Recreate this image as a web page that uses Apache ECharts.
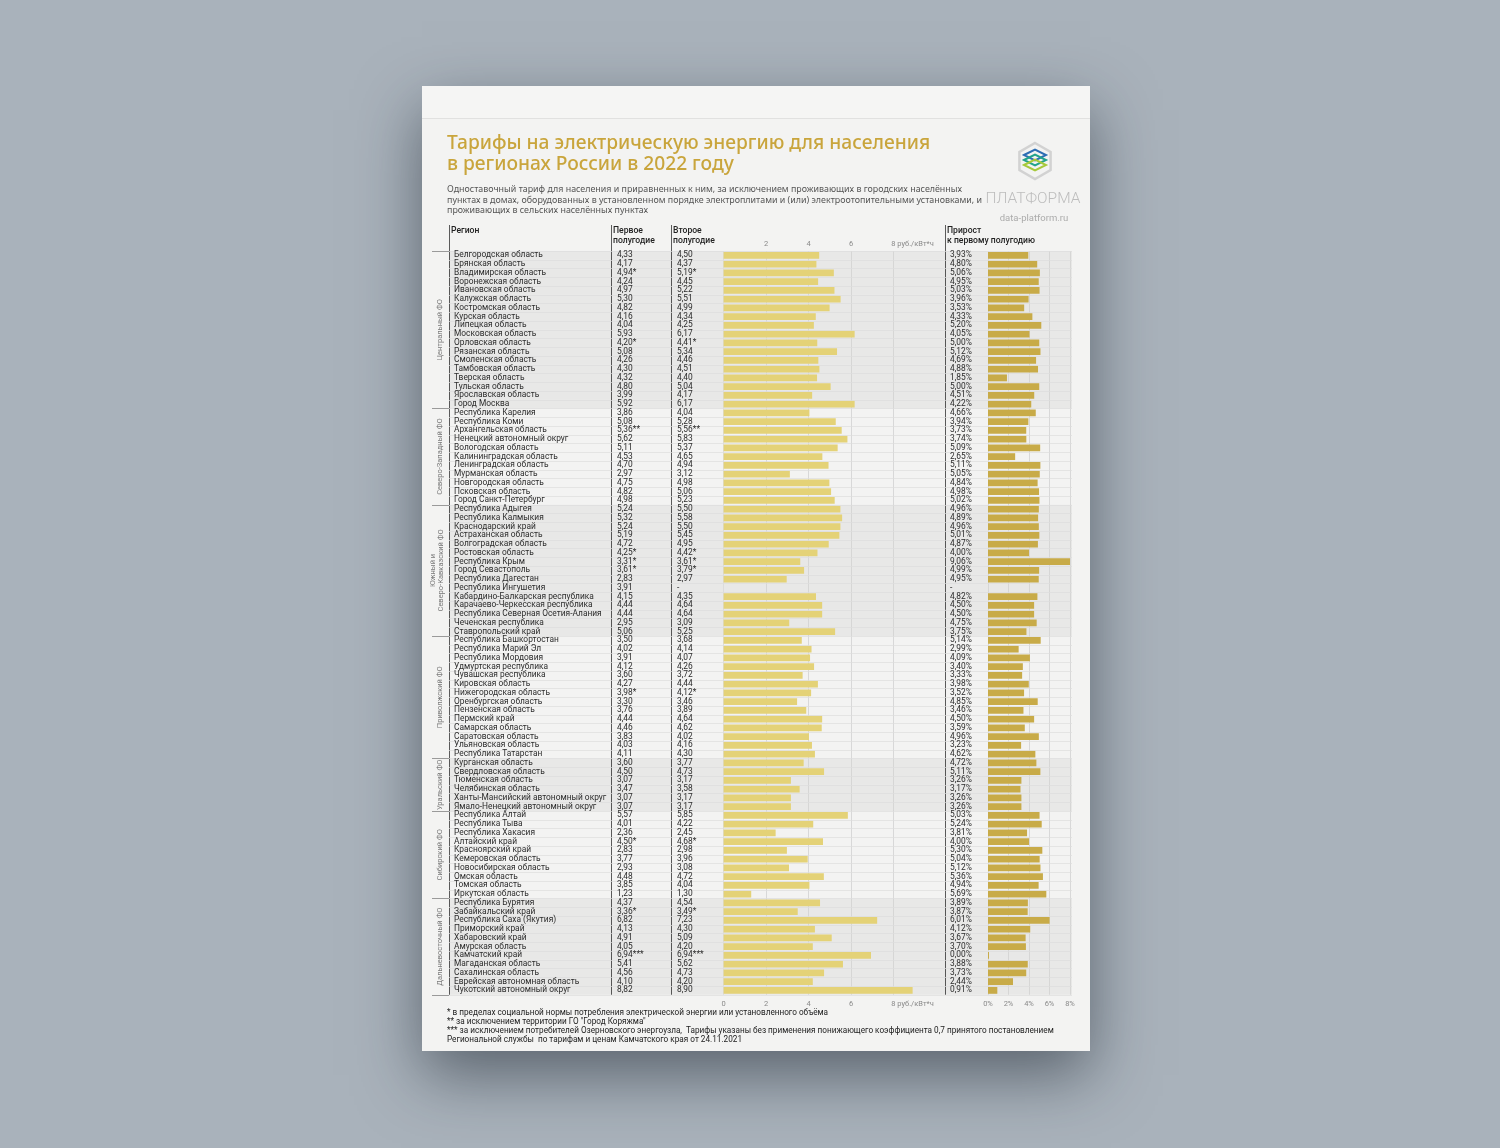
<!DOCTYPE html>
<html><head><meta charset="utf-8">
<script src="https://cdn.jsdelivr.net/npm/echarts@6/dist/echarts.min.js"></script>
<style>html,body{margin:0;padding:0;background:#a9b2bb}#c{width:1500px;height:1148px}</style>
</head><body><div id="c"></div>
<script>
// ---------------- DATA ----------------
const regions = [
 'Белгородская область','Брянская область','Владимирская область','Воронежская область','Ивановская область','Калужская область','Костромская область','Курская область','Липецкая область','Московская область','Орловская область','Рязанская область','Смоленская область','Тамбовская область','Тверская область','Тульская область','Ярославская область','Город Москва',
 'Республика Карелия','Республика Коми','Архангельская область','Ненецкий автономный округ','Вологодская область','Калининградская область','Ленинградская область','Мурманская область','Новгородская область','Псковская область','Город Санкт-Петербург',
 'Республика Адыгея','Республика Калмыкия','Краснодарский край','Астраханская область','Волгоградская область','Ростовская область','Республика Крым','Город Севастополь','Республика Дагестан','Республика Ингушетия','Кабардино-Балкарская республика','Карачаево-Черкесская республика','Республика Северная Осетия-Алания','Чеченская республика','Ставропольский край',
 'Республика Башкортостан','Республика Марий Эл','Республика Мордовия','Удмуртская республика','Чувашская республика','Кировская область','Нижегородская область','Оренбургская область','Пензенская область','Пермский край','Самарская область','Саратовская область','Ульяновская область','Республика Татарстан',
 'Курганская область','Свердловская область','Тюменская область','Челябинская область','Ханты-Мансийский автономный округ','Ямало-Ненецкий автономный округ',
 'Республика Алтай','Республика Тыва','Республика Хакасия','Алтайский край','Красноярский край','Кемеровская область','Новосибирская область','Омская область','Томская область','Иркутская область',
 'Республика Бурятия','Забайкальский край','Республика Саха (Якутия)','Приморский край','Хабаровский край','Амурская область','Камчатский край','Магаданская область','Сахалинская область','Еврейская автономная область','Чукотский автономный округ'
];
const firstHalf = [
 4.33,4.17,4.94,4.24,4.97,5.30,4.82,4.16,4.04,5.93,4.20,5.08,4.26,4.30,4.32,4.80,3.99,5.92,
 3.86,5.08,5.36,5.62,5.11,4.53,4.70,2.97,4.75,4.82,4.98,
 5.24,5.32,5.24,5.19,4.72,4.25,3.31,3.61,2.83,3.91,4.15,4.44,4.44,2.95,5.06,
 3.50,4.02,3.91,4.12,3.60,4.27,3.98,3.30,3.76,4.44,4.46,3.83,4.03,4.11,
 3.60,4.50,3.07,3.47,3.07,3.07,
 5.57,4.01,2.36,4.50,2.83,3.77,2.93,4.48,3.85,1.23,
 4.37,3.36,6.82,4.13,4.91,4.05,6.94,5.41,4.56,4.10,8.82
];
const secondHalf = [
 4.50,4.37,5.19,4.45,5.22,5.51,4.99,4.34,4.25,6.17,4.41,5.34,4.46,4.51,4.40,5.04,4.17,6.17,
 4.04,5.28,5.56,5.83,5.37,4.65,4.94,3.12,4.98,5.06,5.23,
 5.50,5.58,5.50,5.45,4.95,4.42,3.61,3.79,2.97,null,4.35,4.64,4.64,3.09,5.25,
 3.68,4.14,4.07,4.26,3.72,4.44,4.12,3.46,3.89,4.64,4.62,4.02,4.16,4.30,
 3.77,4.73,3.17,3.58,3.17,3.17,
 5.85,4.22,2.45,4.68,2.98,3.96,3.08,4.72,4.04,1.30,
 4.54,3.49,7.23,4.30,5.09,4.20,6.94,5.62,4.73,4.20,8.90
];
const growthPct = [
 3.93,4.80,5.06,4.95,5.03,3.96,3.53,4.33,5.20,4.05,5.00,5.12,4.69,4.88,1.85,5.00,4.51,4.22,
 4.66,3.94,3.73,3.74,5.09,2.65,5.11,5.05,4.84,4.98,5.02,
 4.96,4.89,4.96,5.01,4.87,4.00,9.06,4.99,4.95,null,4.82,4.50,4.50,4.75,3.75,
 5.14,2.99,4.09,3.40,3.33,3.98,3.52,4.85,3.46,4.50,3.59,4.96,3.23,4.62,
 4.72,5.11,3.26,3.17,3.26,3.26,
 5.03,5.24,3.81,4.00,5.30,5.04,5.12,5.36,4.94,5.69,
 3.89,3.87,6.01,4.12,3.67,3.70,0.00,3.88,3.73,2.44,0.91
];
const footnoteRows = [[2,'*'],[10,'*'],[20,'**'],[34,'*'],[35,'*'],[36,'*'],[50,'*'],[67,'*'],[75,'*'],[80,'***']];
const groupNames = ['Центральный ФО','Северо-Западный ФО','Южный и\nСеверо-Кавказский ФО','Приволжский ФО','Уральский ФО','Сибирский ФО','Дальневосточный ФО'];
const groupSizes = [18,11,15,14,6,10,11];
const tariffTickLabels = ['0','2','4','6','8 руб./кВт*ч'];
const growthTickLabels = ['0%','2%','4%','6%','8%'];

// ---------------- LAYOUT ----------------
const N = regions.length;
const ROW_TOP = 251, ROW_H = 8.75, TBL_H = N * ROW_H;
const FONT = 'Roboto';
const marks = regions.map(() => '');
footnoteRows.forEach(([i, m]) => { marks[i] = m; });
const groupOf = [];
groupSizes.forEach((n, g) => { for (let k = 0; k < n; k++) groupOf.push(g); });
const boundaries = new Set([0]);
{ let s = 0; groupSizes.forEach(n => { s += n; boundaries.add(s); }); }
const fmt = v => v == null ? '-' : v.toFixed(2).replace('.', ',');

const chart = echarts.init(document.getElementById('c'), null, {width: 1500, height: 1148});

const hiddenCat = gi => ({gridIndex: gi, type: 'category', inverse: true, data: regions, show: false});
const textCol = (margin, fn) => ({
  gridIndex: 0, type: 'category', inverse: true, data: regions, position: 'left', z: 4,
  axisLine: {show: false}, axisTick: {show: false}, splitLine: {show: false},
  axisLabel: {inside: true, margin: margin, interval: 0, fontSize: 8.4, color: '#2b2b2b', fontFamily: FONT, formatter: fn}
});

chart.setOption({
  animation: false,
  backgroundColor: '#a9b2bb',
  grid: [
    {left: 449, top: ROW_TOP, width: 623, height: TBL_H, outerBoundsMode: 'none'},
    {left: 723.6, top: ROW_TOP, width: 212.4, height: TBL_H, outerBoundsMode: 'none'},
    {left: 988, top: ROW_TOP, width: 82, height: TBL_H, outerBoundsMode: 'none'}
  ],
  xAxis: [
    {gridIndex: 0, type: 'value', min: 0, max: 1, show: false},
    {gridIndex: 1, type: 'value', position: 'bottom', min: 0, max: 10, interval: 2, z: 1,
     axisLine: {show: false}, axisTick: {show: false},
     splitLine: {show: true, lineStyle: {width: 0.8, color: ['#d8d8d8','#d0d0d0','#d0d0d0','#d0d0d0','#d0d0d0','rgba(0,0,0,0)']}},
     axisLabel: {margin: 5, fontSize: 7.5, color: '#8a8a8a', fontFamily: FONT,
       formatter: v => v === 8 ? '{u|' + tariffTickLabels[4] + '}' : (v % 2 === 0 && v < 8 ? tariffTickLabels[v / 2] : ''),
       rich: {u: {fontSize: 7.5, color: '#8a8a8a', fontFamily: FONT, padding: [0, 0, 0, 38]}}}},
    {gridIndex: 1, type: 'value', position: 'top', min: 0, max: 10, interval: 2,
     axisLine: {show: false}, axisTick: {show: false}, splitLine: {show: false},
     axisLabel: {margin: 3, fontSize: 7.5, color: '#8a8a8a', fontFamily: FONT,
       formatter: v => v === 8 ? '{u|' + tariffTickLabels[4] + '}' : (v > 0 && v < 8 ? tariffTickLabels[v / 2] : ''),
       rich: {u: {fontSize: 7.5, color: '#8a8a8a', fontFamily: FONT, padding: [0, 0, 0, 38]}}}},
    {gridIndex: 2, type: 'value', position: 'bottom', min: 0, max: 8, interval: 2, z: 1,
     axisLine: {show: false}, axisTick: {show: false},
     splitLine: {show: true, lineStyle: {width: 0.8, color: '#d0d0d0'}},
     axisLabel: {margin: 5, fontSize: 7.5, color: '#8a8a8a', fontFamily: FONT,
       formatter: v => growthTickLabels[v / 2] || ''}}
  ],
  yAxis: [
    {gridIndex: 0, type: 'category', inverse: true, data: regions, position: 'left', z: 4,
     axisLine: {show: false},
     axisTick: {show: true, length: 17, interval: (i) => boundaries.has(i), lineStyle: {color: '#9a9a9a', width: 1}},
     splitLine: {show: true, interval: 0, lineStyle: {color: '#dcdcdc', width: 0.7}},
     axisLabel: {inside: true, margin: 5, interval: 0, fontSize: 8.4, color: '#2b2b2b', fontFamily: FONT}},
    textCol(168, (v, i) => fmt(firstHalf[i]) + marks[i]),
    textCol(228, (v, i) => fmt(secondHalf[i]) + (secondHalf[i] == null ? '' : marks[i])),
    textCol(501, (v, i) => growthPct[i] == null ? '-' : fmt(growthPct[i]) + '%'),
    hiddenCat(1),
    hiddenCat(2)
  ],
  series: [
    {name: 'shade', type: 'bar', xAxisIndex: 0, yAxisIndex: 0, silent: true, z: 0,
     barWidth: '100%', itemStyle: {color: 'rgba(0,0,0,0.045)'},
     data: groupOf.map(g => g % 2 === 0 ? 1 : '-')},
    {name: 'Второе полугодие', type: 'bar', xAxisIndex: 1, yAxisIndex: 4, z: 3,
     barWidth: '78%', itemStyle: {color: '#e4d277'},
     data: secondHalf.map(v => v == null ? '-' : v)},
    {name: 'Прирост', type: 'bar', xAxisIndex: 3, yAxisIndex: 5, z: 3,
     barWidth: '78%', barMinHeight: 1, itemStyle: {color: '#c8ab48'},
     data: growthPct.map(v => v == null ? '-' : v)}
  ]
});

// ---------------- DECORATION ----------------
const g = [];
g.push({type: 'rect', z: -10, shape: {x: 422, y: 86, width: 668, height: 965},
  style: {fill: '#f3f3f2', shadowBlur: 60, shadowOffsetY: 24, shadowColor: 'rgba(25,35,45,0.55)'}});
g.push({type: 'rect', z: -9, shape: {x: 422, y: 86, width: 668, height: 32}, style: {fill: '#f5f5f4'}});
g.push({type: 'line', z: -9, shape: {x1: 422, y1: 118.5, x2: 1090, y2: 118.5}, style: {stroke: 'rgba(0,0,0,0.07)', lineWidth: 1}});
g.push({type: 'text', x: 447, y: 133.5, style: {text: 'Тарифы на электрическую энергию для населения\nв регионах России в 2022 году',
  font: '500 19.2px "Noto Sans"', fill: '#c9a53c', lineHeight: 21, verticalAlign: 'top'}});
g.push({type: 'text', x: 447, y: 184.8, style: {text: 'Одноставочный тариф для населения и приравненных к ним, за исключением проживающих в городских населённых\nпунктах в домах, оборудованных в установленном порядке электроплитами и (или) электроотопительными установками, и\nпроживающих в сельских населённых пунктах',
  font: '8.9px "Noto Sans"', fill: '#555', lineHeight: 10.3, verticalAlign: 'top'}});
// logo
const cx = 1035, cy = 161, R = 18;
const hex = [];
for (let k = 0; k < 6; k++) { const a = -Math.PI / 2 + k * Math.PI / 3; hex.push([cx + R * Math.cos(a), cy + R * Math.sin(a)]); }
g.push({type: 'polygon', shape: {points: hex}, style: {fill: 'none', stroke: '#d2d2d2', lineWidth: 2.5}});
['#2c6db3', '#21a38b', '#a6c93a'].forEach((c, i) => {
  const yc = cy - 6 + i * 5;
  g.push({type: 'polygon', shape: {points: [[cx - 11, yc], [cx, yc - 5.5], [cx + 11, yc], [cx, yc + 5.5]]}, style: {fill: 'none', stroke: c, lineWidth: 2}});
});
g.push({type: 'text', x: 1033, y: 199, style: {text: 'ПЛАТФОРМА', font: '300 15.5px Roboto', fill: '#bdbdbd', align: 'center', verticalAlign: 'middle'}});
g.push({type: 'text', x: 1034, y: 219, style: {text: 'data-platform.ru', font: '9.5px Roboto', fill: '#ababab', align: 'center', verticalAlign: 'middle'}});
// headers
[[451, 'Регион'], [613, 'Первое\nполугодие'], [673, 'Второе\nполугодие'], [947, 'Прирост\nк первому полугодию']].forEach(([x, t]) => {
  g.push({type: 'text', x: x, y: 225.5, style: {text: t, font: '500 8.6px Roboto', fill: '#222', lineHeight: 10, verticalAlign: 'top'}});
});
// column separators
[449.5, 611.5, 671.5, 945.5].forEach(x => {
  g.push({type: 'line', shape: {x1: x, y1: 225, x2: x, y2: ROW_TOP + TBL_H}, style: {stroke: '#5a5a5a', lineWidth: 1}});
});
// footnotes
g.push({type: 'text', x: 447, y: 1008, style: {text: '* в пределах социальной нормы потребления электрической энергии или установленного объёма\n** за исключением территории ГО "Город Коряжма"\n*** за исключением потребителей Озерновского энергоузла,  Тарифы указаны без применения понижающего коэффициента 0,7 принятого постановлением\nРегиональной службы  по тарифам и ценам Камчатского края от 24.11.2021',
  font: '8.2px Roboto', fill: '#222', lineHeight: 9, verticalAlign: 'top'}});
// group labels from the category axis scale
{
  let s = 0;
  groupSizes.forEach((n, gi) => {
    const y0 = chart.convertToPixel({yAxisIndex: 0}, s);
    const y1 = chart.convertToPixel({yAxisIndex: 0}, s + n - 1);
    const two = groupNames[gi].indexOf('\n') >= 0;
    g.push({type: 'text', x: two ? 437 : 440.5, y: (y0 + y1) / 2, rotation: Math.PI / 2,
      style: {text: groupNames[gi], font: '7.5px Roboto', fill: '#7a7a7a', align: 'center', verticalAlign: 'middle', lineHeight: 8.5}});
    s += n;
  });
}
chart.setOption({graphic: {elements: g}});
</script></body></html>
